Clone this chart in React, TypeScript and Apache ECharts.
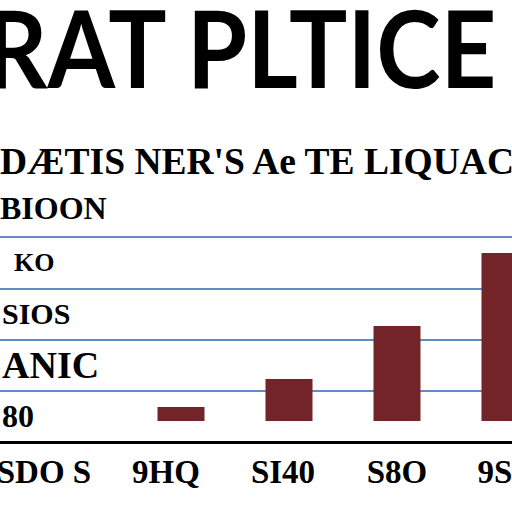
import React, { useEffect, useRef } from "react";
import * as echarts from "echarts";

const title = "RAT PLTICE";
const subtitleLine1 = "DÆTIS NER'S Ae TE LIQUAC";
const subtitleLine2 = "BIOON";
const categories = ["SDO S", "9HQ", "SI40", "S8O", "9S"];
const values = [0, 7, 21, 47.5, 84];
const bandLabels = ["80", "ANIC", "SIOS", "KO"];
const bandFontSizes = [32, 38, 30, 26];

const SERIF = "'Liberation Serif', 'Times New Roman', serif";

export default function App() {
  const ref = useRef<HTMLDivElement>(null);
  useEffect(() => {
    if (!ref.current) return;
    const chart = echarts.init(ref.current, undefined, { renderer: "svg" });
    const xPads = [
      [0, 58, 0, 0],
      [0, 30, 0, 0],
      [0, 12, 0, 0],
      [0, 0, 0, 0],
      [0, 20, 0, 0],
    ];
    chart.setOption({
      animation: false,
      backgroundColor: "#ffffff",
      grid: [
        { left: 0, right: 0, top: 237, bottom: 70, outerBoundsMode: "none", containLabel: false },
        { left: 19, width: 540, top: 237, bottom: 70, outerBoundsMode: "none", containLabel: false },
      ],
      xAxis: [
        {
          gridIndex: 0,
          type: "value",
          min: 0,
          max: 1,
          axisLine: { show: true, onZero: false, lineStyle: { color: "#000", width: 3 } },
          axisTick: { show: false },
          axisLabel: { show: false },
          splitLine: { show: false },
        },
        {
          gridIndex: 1,
          type: "category",
          data: categories.map((c, i) => ({
            value: c,
            textStyle: { padding: xPads[i] },
          })),
          axisLine: { show: false },
          axisTick: { show: false },
          axisLabel: {
            interval: 0,
            hideOverlap: false,
            margin: 13,
            fontFamily: SERIF,
            fontWeight: "bold",
            fontSize: 33,
            color: "#000",
          },
        },
      ],
      yAxis: [
        {
          gridIndex: 0,
          type: "value",
          position: "left",
          min: 0,
          max: 4,
          interval: 1,
          axisLine: { show: false },
          axisTick: { show: false },
          axisLabel: { show: false },
          splitLine: { show: true, lineStyle: { color: "#5f8cc6", width: 2 } },
        },
        {
          gridIndex: 0,
          type: "category",
          position: "left",
          data: bandLabels.map((b, i) => ({
            value: b,
            textStyle: { fontSize: bandFontSizes[i], padding: i === 3 ? [0, 0, 0, 12] : 0 },
          })),
          axisLine: { show: false },
          axisTick: { show: false },
          splitLine: { show: false },
          axisLabel: {
            interval: 0,
            inside: true,
            margin: 2,
            fontFamily: SERIF,
            fontWeight: "bold",
            color: "#000",
          },
        },
        {
          gridIndex: 1,
          type: "value",
          min: -10.5,
          max: 92,
          show: false,
          splitLine: { show: false },
        },
      ],
      series: [
        {
          type: "bar",
          xAxisIndex: 1,
          yAxisIndex: 2,
          data: values,
          barWidth: 47,
          itemStyle: { color: "#722428" },
        },
      ],
      graphic: [
        {
          type: "text",
          x: -15,
          y: 46,
          scaleX: 0.9,
          style: {
            text: title,
            font: "bold 108px Lato, sans-serif",
            fill: "#000",
            verticalAlign: "middle",
          },
        },
        {
          type: "text",
          x: 0,
          y: 161,
          style: {
            text: subtitleLine1,
            font: `bold 37.5px ${SERIF}`,
            fill: "#000",
            verticalAlign: "middle",
          },
        },
        {
          type: "text",
          x: 0,
          y: 208,
          style: {
            text: subtitleLine2,
            font: `bold 32px ${SERIF}`,
            fill: "#000",
            verticalAlign: "middle",
          },
        },
      ],
    });
    return () => chart.dispose();
  }, []);
  return <div ref={ref} style={{ width: 512, height: 512, position: "fixed", left: 0, top: 0 }} />;
}
